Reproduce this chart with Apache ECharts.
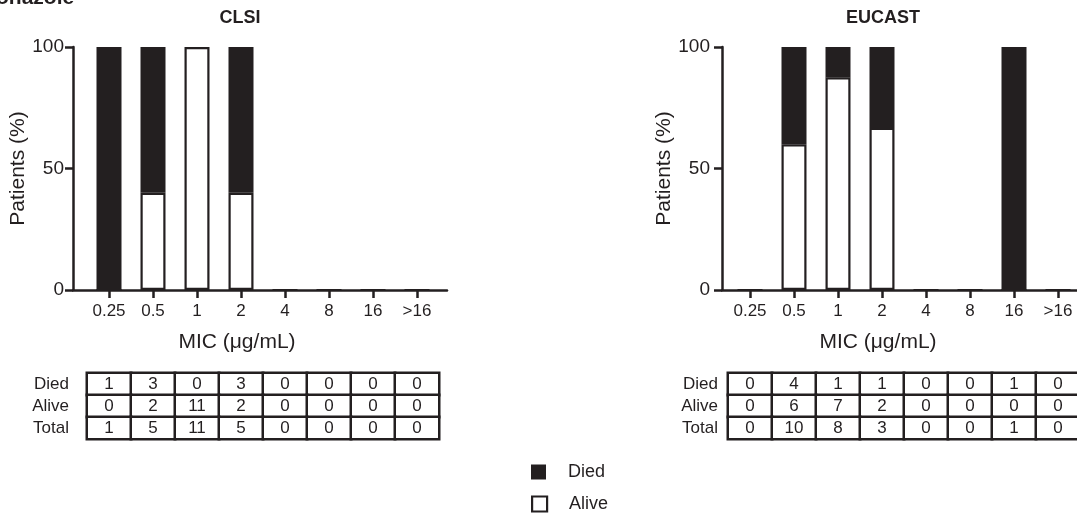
<!DOCTYPE html>
<html><head><meta charset="utf-8">
<script src="https://cdn.jsdelivr.net/npm/echarts@6/dist/echarts.min.js"></script>
<style>html,body{margin:0;padding:0;background:#fff}#c{width:1077px;height:513px}</style>
</head><body><div id="c"></div>
<script>
// ---- data ----
const categories = ['0.25', '0.5', '1', '2', '4', '8', '16', '>16'];
const rowLabels = ['Died', 'Alive', 'Total'];
const yTicks = [0, 50, 100];
// CLSI (% of patients)
const clsiAlivePct = [0, 40, 100, 40, 0, 0, 0, 0];
const clsiDiedPct  = [100, 60, 0, 60, 0, 0, 0, 0];
// EUCAST (% of patients)
const eucastAlivePct = [0, 60, 87.5, 66.7, 0, 0, 0, 0];
const eucastDiedPct  = [0, 40, 12.5, 33.3, 0, 0, 100, 0];
// table counts
const clsiDied   = [1, 3, 0, 3, 0, 0, 0, 0];
const clsiAlive  = [0, 2, 11, 2, 0, 0, 0, 0];
const clsiTotal  = [1, 5, 11, 5, 0, 0, 0, 0];
const eucastDied  = [0, 4, 1, 1, 0, 0, 1, 0];
const eucastAlive = [0, 6, 7, 2, 0, 0, 0, 0];
const eucastTotal = [0, 10, 8, 3, 0, 0, 1, 0];

// ---- styling ----
const INK = '#231f20';
const FONT = '"Liberation Sans", Arial, sans-serif';

function tableData(rows) {
  const out = [];
  rows.forEach((r, ri) => r.forEach((v, ci) => out.push([ci, ri, v])));
  return out;
}

function panel(idx, x0Axis, x0Bars, axisWidth, labelMargin, yNameGap, yLabelMargin) {
  const g = idx * 3;
  const grids = [
    { left: x0Axis, width: axisWidth, top: 47, height: 243 },
    { left: x0Bars, width: 352, top: 47, height: 243 },
    { left: x0Bars, width: 352, top: 373, height: 66 }
  ].map(o => Object.assign({ outerBoundsMode: 'none', containLabel: false }, o));
  const xAxes = [
    { gridIndex: g, type: 'value', min: 0, max: 1,
      axisLine: { show: true, lineStyle: { color: INK, width: 2.5 } },
      axisTick: { show: false }, axisLabel: { show: false }, splitLine: { show: false } },
    { gridIndex: g + 1, type: 'category', data: categories,
      axisLine: { show: false },
      axisTick: { show: true, alignWithLabel: true, interval: 0, length: 8, lineStyle: { color: INK, width: 2.5 } },
      axisLabel: { color: INK, fontSize: 17, fontFamily: FONT, margin: 13, interval: 0, hideOverlap: false },
      name: 'MIC (μg/mL)', nameLocation: 'middle', nameGap: 42,
      nameTextStyle: { color: INK, fontSize: 21, fontFamily: FONT, padding: [0, 52, 0, 0] } },
    { gridIndex: g + 2, type: 'category', data: categories, show: false }
  ];
  const yAxes = [
    { gridIndex: g, type: 'value', min: yTicks[0], max: yTicks[yTicks.length - 1],
      interval: yTicks[1] - yTicks[0],
      axisLine: { show: true, lineStyle: { color: INK, width: 2.5 } },
      axisTick: { show: true, length: 8, lineStyle: { color: INK, width: 2.5 } },
      axisLabel: { color: INK, fontSize: 19, fontFamily: FONT, margin: yLabelMargin },
      splitLine: { show: false },
      name: 'Patients (%)', nameLocation: 'middle', nameGap: yNameGap,
      nameTextStyle: { color: INK, fontSize: 21, fontFamily: FONT } },
    { gridIndex: g + 1, type: 'value', min: yTicks[0], max: yTicks[yTicks.length - 1], show: false },
    { gridIndex: g + 2, type: 'category', data: rowLabels, inverse: true,
      axisLine: { show: false }, axisTick: { show: false }, splitLine: { show: false },
      axisLabel: { color: INK, fontSize: 17, fontFamily: FONT, margin: labelMargin, interval: 0, hideOverlap: false } }
  ];
  return { grids, xAxes, yAxes };
}

const L = panel(0, 73, 87, 374, 18, 42, 9);
const R = panel(1, 722, 728, 360, 10, 46, 12);

function barSeries(g, alive, died) {
  return [
    { name: 'Alive', type: 'bar', xAxisIndex: g + 1, yAxisIndex: g + 1, stack: 's' + g,
      barWidth: 25, data: alive,
      itemStyle: { color: '#ffffff', borderColor: INK, borderWidth: 2.2 } },
    { name: 'Died', type: 'bar', xAxisIndex: g + 1, yAxisIndex: g + 1, stack: 's' + g,
      barWidth: 25, data: died,
      itemStyle: { color: INK } }
  ];
}
function tableSeries(g, rows) {
  return {
    type: 'heatmap', xAxisIndex: g + 2, yAxisIndex: g + 2,
    data: tableData(rows),
    itemStyle: { color: '#ffffff', borderColor: INK, borderWidth: 2.5 },
    label: { show: true, color: INK, fontSize: 17, fontFamily: FONT, formatter: p => String(p.value[2]) },
    emphasis: { disabled: true }
  };
}

function legendItem(name, top, style) {
  return {
    orient: 'vertical', left: 531, top: top, padding: 0, itemWidth: 15, itemHeight: 15,
    selectedMode: false,
    textStyle: { color: INK, fontSize: 18, fontFamily: FONT, padding: [0, 0, 0, 17] },
    data: [{ name: name, icon: 'rect', itemStyle: style }]
  };
}

const chart = echarts.init(document.getElementById('c'), null, { renderer: 'canvas' });
chart.setOption({
  animation: false,
  backgroundColor: '#ffffff',
  textStyle: { fontFamily: FONT },
  grid: [...L.grids, ...R.grids],
  xAxis: [...L.xAxes, ...R.xAxes],
  yAxis: [...L.yAxes, ...R.yAxes],
  legend: [
    legendItem('Died', 463, { color: INK, borderWidth: 0 }),
    legendItem('Alive', 495, { color: '#ffffff', borderColor: INK, borderWidth: 2.2 })
  ],
  graphic: [
    { type: 'text', left: -4, top: -12, style: { text: 'onazole', fill: INK, font: 'bold 21px ' + FONT } },
    { type: 'text', x: 240, y: 9, style: { text: 'CLSI', fill: INK, font: 'bold 18px ' + FONT, align: 'center' } },
    { type: 'text', x: 883, y: 9, style: { text: 'EUCAST', fill: INK, font: 'bold 18px ' + FONT, align: 'center' } }
  ],
  series: [
    ...barSeries(0, clsiAlivePct, clsiDiedPct),
    tableSeries(0, [clsiDied, clsiAlive, clsiTotal]),
    ...barSeries(3, eucastAlivePct, eucastDiedPct),
    tableSeries(3, [eucastDied, eucastAlive, eucastTotal])
  ]
});
</script>
</body></html>
